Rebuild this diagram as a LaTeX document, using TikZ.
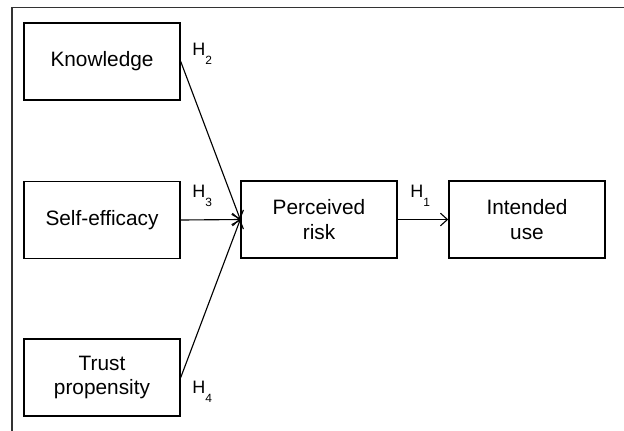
\documentclass[tikz,border=0pt]{standalone}
\usepackage{fontspec}
\setmainfont{Liberation Sans}
\usetikzlibrary{arrows.meta}
\newcommand{\hyp}[1]{H\raisebox{-7pt}{\fontsize{8.5}{8.5}\selectfont #1}}
\begin{document}
\begin{tikzpicture}[
    x=0.025cm, y=-0.025cm,
    box/.style={rectangle, draw=black, line width=1pt, fill=white, minimum width=3.9cm, minimum height=1.925cm, align=center, font=\fontsize{14.8}{17.7}\selectfont},
    lab/.style={anchor=base west, inner sep=0pt, font=\fontsize{12.8}{13}\selectfont},
    arr/.style={-{Straight Barb[length=5pt, width=9pt]}, line width=0.8pt}
]
    \useasboundingbox (0,0) rectangle (624,430);

    % Frame
    \draw[line width=0.9pt, black!80] (12,432) -- (12,7.5) -- (626,7.5);

    % Antecedents
    \node[box] (know) at (102,61.5) {Knowledge};
    \node[box] (self) at (102,220) {Self-efficacy};
    \node[box] (trust) at (102,377.5) {Trust\\propensity};

    % Mediator and outcome
    \node[box] (risk) at (319,219.5) {Perceived\\risk};
    \node[box] (use) at (527,219.5) {Intended\\use};

    % Arrows
    \draw[arr] (know.east) -- (risk.west);
    \draw[arr] (self.east) -- (risk.west);
    \draw[arr] (trust.east) -- (risk.west);
    \draw[arr] (risk.east) -- (use.west);

    % Hypotheses
    \node[lab] (h2) at (192,55) {\hyp{2}};
    \node[lab] (h3) at (192,197) {\hyp{3}};
    \node[lab] (h4) at (192,393) {\hyp{4}};
    \node[lab] (h1) at (410,197) {\hyp{1}};
\end{tikzpicture}
\end{document}
